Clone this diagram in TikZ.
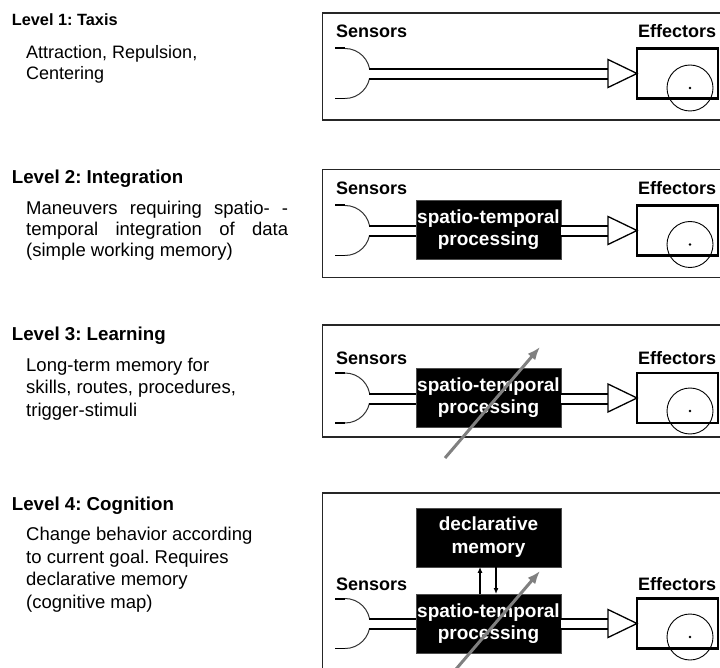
\documentclass[tikz,border=0pt]{standalone}
\usepackage{fontspec}
\setmainfont{Liberation Sans}
\usetikzlibrary{arrows.meta}
\frenchspacing

\begin{document}
\begin{tikzpicture}[
    x=1pt, y=-1pt,
    frame/.style={draw=black!85, line width=1.8pt},
    heading/.style={anchor=base west, inner sep=0pt, font=\fontsize{18.7}{22}\selectfont\bfseries},
    body/.style={anchor=base west, inner sep=0pt, align=left, font=\fontsize{18.5}{22.3}\selectfont},
    tag/.style={anchor=base west, inner sep=0pt, font=\fontsize{18}{21}\selectfont\bfseries},
    block/.style={fill=black, draw=black!70, text=white, minimum width=145pt, minimum height=59pt,
        inner sep=0pt, align=center, font=\fontsize{19}{22.5}\selectfont\bfseries},
    effector/.style={draw, line width=2.6pt, minimum width=81pt, minimum height=50pt, inner sep=0pt},
    wheel/.style={circle, draw, line width=0.9pt, minimum size=46pt, inner sep=0pt},
    channel/.style={line width=2pt, double=white, double distance=8pt},
    sensor/.style={draw=black!80, line width=1pt},
    stub/.style={line width=2pt},
    tipshape/.style={draw, fill=white, line width=1.3pt, line join=miter},
    learn/.style={-{Latex[length=13pt,width=10pt]}, draw=black!50, line width=3pt},
    link/.style={-{Latex[length=6pt,width=5pt]}, line width=1.5pt}
]
    \useasboundingbox (0,0) rectangle (720,668);
    \clip (0,0) rectangle (720,668);

    % Left column (body nodes sit on their last line)
    \node[heading, font=\fontsize{16.3}{20}\selectfont\bfseries] (h1) at (11.7,26) {Level 1: Taxis};
    \node[body, font=\fontsize{18}{21.7}\selectfont] (b1) at (26,80) {Attraction, Repulsion,\\Centering};
    \node[heading] (h2) at (11.7,184) {Level 2: Integration};
    \node[body, font=\fontsize{18.5}{21}\selectfont] (b2) at (26,257)
        {\makebox[262pt][s]{Maneuvers requiring spatio- -}\\
         \makebox[262pt][s]{temporal integration of data}\\(simple working memory)};
    \node[heading] (h3) at (11.7,340) {Level 3: Learning};
    \node[body] (b3) at (26,416) {Long-term memory for\\skills, routes, procedures,\\trigger-stimuli};
    \node[heading] (h4) at (11.7,510.7) {Level 4: Cognition};
    \node[body, font=\fontsize{18.5}{22.5}\selectfont] (b4) at (26,608.3) {Change behavior according\\to current goal. Requires\\declarative memory\\(cognitive map)};

    % Frames
    \draw[frame] (740,13) -- (322.5,13) -- (322.5,120) -- (740,120);
    \draw[frame] (740,169.5) -- (322.5,169.5) -- (322.5,277.5) -- (740,277.5);
    \draw[frame] (740,324.7) -- (322.5,324.7) -- (322.5,436.7) -- (740,436.7);
    \draw[frame] (740,493.3) -- (322.5,493.3) -- (322.5,690);

    % Level 1
    \node[tag] (s1) at (336,38) {Sensors};
    \node[tag] (e1) at (638,38) {Effectors};
    \draw[stub] (335,48.5) -- (345,48.5);
    \draw[stub, line width=1.4pt] (335,98.5) -- (345,98.5);
    \draw[sensor] (345,48.5) arc[start angle=90, end angle=-90, radius=25pt];
    \coordinate (in1) at (369,74);
    \coordinate (out1) at (608,74);
    \draw[channel] (in1) -- (out1);
    \draw[tipshape] (608,59.5) -- (637,73.5) -- (608,87.5) -- cycle;
    \node[effector] (box1) at (677.5,73.5) {};
    \node[wheel] (w1) at (690,88) {};
    \fill (w1.center) circle[radius=1.3pt];

    % Level 2
    \node[tag] (s2) at (336,195) {Sensors};
    \node[tag] (e2) at (638,195) {Effectors};
    \draw[stub] (335,205.5) -- (345,205.5);
    \draw[stub, line width=1.4pt] (335,255.5) -- (345,255.5);
    \draw[sensor] (345,205.5) arc[start angle=90, end angle=-90, radius=25pt];
    \coordinate (in2) at (369,231);
    \coordinate (out2) at (608,231);
    \node[block] (proc2) at (488.5,229.7) {spatio-temporal\\processing};
    \draw[channel] (in2) -- (in2 -| proc2.west);
    \draw[channel] (out2 -| proc2.east) -- (out2);
    \draw[tipshape] (608,216.5) -- (637,230.5) -- (608,244.5) -- cycle;
    \node[effector] (box2) at (677.5,230.5) {};
    \node[wheel] (w2) at (690,244.5) {};
    \fill (w2.center) circle[radius=1.3pt];

    % Level 3
    \node[tag] (s3) at (336,364.3) {Sensors};
    \node[tag] (e3) at (638,364.3) {Effectors};
    \draw[stub] (335,373) -- (345,373);
    \draw[stub, line width=1.4pt] (335,423) -- (345,423);
    \draw[sensor] (345,373) arc[start angle=90, end angle=-90, radius=25pt];
    \coordinate (in3) at (369,398.5);
    \coordinate (out3) at (608,398.5);
    \node[block] (proc3) at (488.5,397.5) {spatio-temporal\\processing};
    \draw[channel] (in3) -- (in3 -| proc3.west);
    \draw[channel] (out3 -| proc3.east) -- (out3);
    \draw[tipshape] (608,384) -- (637,398) -- (608,412) -- cycle;
    \node[effector] (box3) at (677.5,398) {};
    \node[wheel] (w3) at (690,411) {};
    \fill (w3.center) circle[radius=1.3pt];
    \coordinate (from3) at (445,458);
    \coordinate (to3) at (540,347);
    \draw[learn] (from3) -- (to3);

    % Level 4
    \node[tag] (s4) at (336,590) {Sensors};
    \node[tag] (e4) at (638,590) {Effectors};
    \draw[stub] (335,598.5) -- (345,598.5);
    \draw[stub, line width=1.4pt] (335,648.5) -- (345,648.5);
    \draw[sensor] (345,598.5) arc[start angle=90, end angle=-90, radius=25pt];
    \coordinate (in4) at (369,624);
    \coordinate (out4) at (608,624);
    \node[block] (mem4) at (488.5,537.2) {declarative\\memory};
    \node[block] (proc4) at (488.5,623.7) {spatio-temporal\\processing};
    \draw[channel] (in4) -- (in4 -| proc4.west);
    \draw[channel] (out4 -| proc4.east) -- (out4);
    \draw[tipshape] (608,609.5) -- (637,623.5) -- (608,637.5) -- cycle;
    \node[effector] (box4) at (677.5,623.5) {};
    \node[wheel] (w4) at (690,637) {};
    \fill (w4.center) circle[radius=1.3pt];
    \draw[link] ([xshift=-8.5pt]proc4.north) -- ([xshift=-8.5pt]mem4.south);
    \draw[link] ([xshift=7.5pt]mem4.south) -- ([xshift=7.5pt]proc4.north);
    \coordinate (from4) at (445,682);
    \coordinate (to4) at (540,571);
    \draw[learn] (from4) -- (to4);
\end{tikzpicture}
\end{document}
